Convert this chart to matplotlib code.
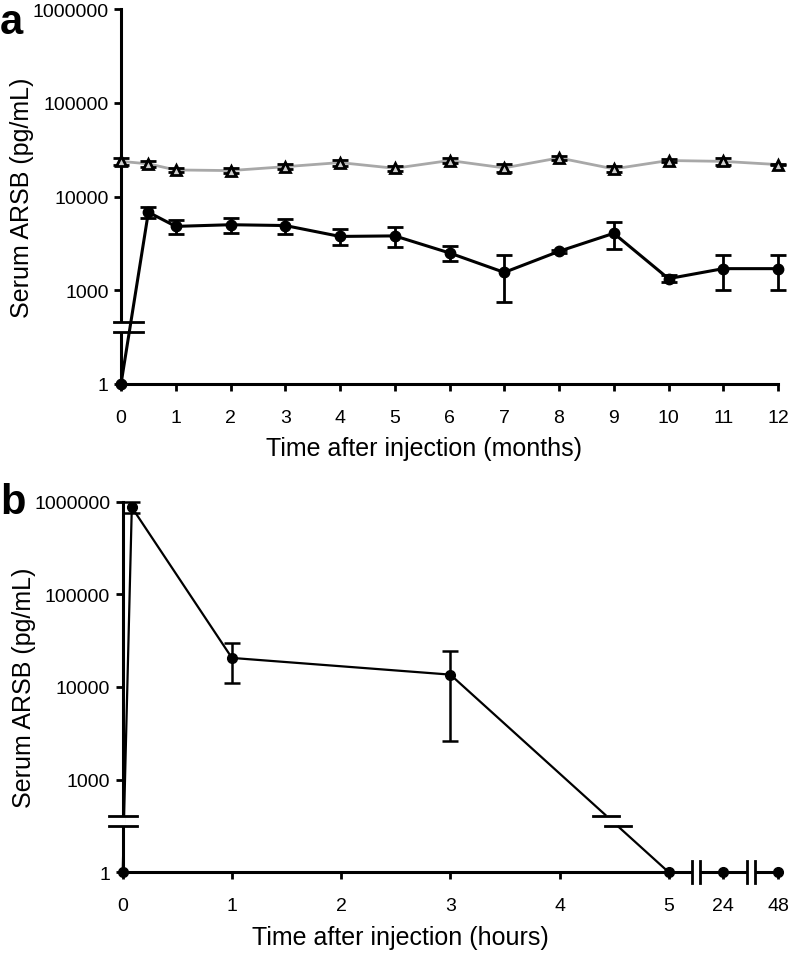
import numpy as np
import matplotlib
matplotlib.use('Agg')
import matplotlib.pyplot as plt
import matplotlib.transforms as mtransforms

plt.rcParams['font.family'] = ['Liberation Sans', 'DejaVu Sans']

# ---- panel a: serum ARSB over 12 months ----
months = [0, 0.5, 1, 2, 3, 4, 5, 6, 7, 8, 9, 10, 11, 12]
treated = [1, 6800, 4800, 5000, 4900, 3750, 3800, 2500, 1550, 2600, 4050, 1330, 1700, 1700]
treated_err = [0, 900, 850, 900, 920, 700, 900, 430, 800, 100, 1270, 120, 700, 700]
normal = [23700, 22300, 19200, 18900, 20800, 23000, 20000, 24200, 20200, 25800, 19700, 24200, 23700, 21900]
normal_err = [1800, 1600, 1000, 1200, 1200, 1700, 1200, 1400, 1800, 1500, 1400, 1000, 2000, 400]

# ---- panel b: serum ARSB over the first 48 hours ----
hours = [0, 5 / 60, 1, 3, 5, 24, 48]
serum = [1, 870000, 20600, 13600, 1, 1, 1]
serum_err = [0, 120000, 9500, 11000, 0, 0, 0]

y_ticks = [1, 1000, 10000, 100000, 1000000]
y_ticklabels = ['1', '1000', '10000', '100000', '1000000']
a_xticks = list(range(13))
b_xticks = [0, 1, 2, 3, 4, 5, 24, 48]


# broken log axis: values below ~300 squeezed, 1 sits one decade under 1000
def yfwd(v):
    v = np.clip(np.asarray(v, dtype=float), 1e-3, None)
    lv = np.log10(v)
    return np.where(lv >= 2.5, lv, 2 + lv * 0.2)


def yinv(t):
    t = np.asarray(t, dtype=float)
    with np.errstate(over='ignore'):
        return np.where(t >= 2.5, 10.0 ** t, 10.0 ** ((t - 2) * 5))


# hours axis: 0-5 linear, then 24 and 48 squeezed in
def xfwd(x):
    x = np.asarray(x, dtype=float)
    return np.where(x <= 5, x, np.where(x <= 24, 5 + 0.5 * (x - 5) / 19, 5.5 + 0.5 * (x - 24) / 24))


def xinv(t):
    t = np.asarray(t, dtype=float)
    return np.where(t <= 5, t, np.where(t <= 5.5, 5 + (t - 5) * 38, 24 + (t - 5.5) * 48))


fig = plt.figure(figsize=(7.92, 9.54), dpi=100)


def anchored(ax, x0, y0):
    # coordinates in inches, shifted to the display position of a data point
    return fig.dpi_scale_trans + mtransforms.ScaledTranslation(x0, y0, ax.transData)


def style_axes(ax):
    for s in ['top', 'right']:
        ax.spines[s].set_visible(False)
    for s in ['left', 'bottom']:
        ax.spines[s].set_linewidth(2.2)
    ax.set_yscale('function', functions=(yfwd, yinv))
    ax.set_ylim(1, 1000000)
    ax.set_yticks(y_ticks)
    ax.set_yticklabels(y_ticklabels)
    ax.yaxis.set_minor_locator(matplotlib.ticker.NullLocator())
    ax.tick_params(axis='both', direction='out', length=5, width=2, labelsize=14)
    ax.tick_params(axis='y', pad=4)
    ax.tick_params(axis='x', pad=13)
    ax.set_ylabel('Serum ARSB (pg/mL)', fontsize=18)
    ax.yaxis.set_label_coords(-0.132, 0.5)


def y_break(ax, center, half, left, right):
    y0 = float(yinv(center))
    ax.plot([0, 0], [yinv(center - half), yinv(center + half)], color='white', lw=4,
            solid_capstyle='butt', zorder=4, clip_on=False)
    tr = anchored(ax, 0, y0)
    for dy in (-0.05, 0.05):
        ax.plot([-left, right], [dy, dy], color='black', lw=2, transform=tr,
                zorder=6, clip_on=False)


# ================= panel a =================
axa = fig.add_axes([121 / 792, 1 - 385 / 954, 657 / 792, 375 / 954])
style_axes(axa)
axa.set_xlim(0, 12)
axa.set_xticks(a_xticks)
axa.set_xticklabels([str(t) for t in a_xticks])
axa.set_xlabel('Time after injection (months)', fontsize=18)
axa.xaxis.set_label_coords((424 - 121) / 657, -0.14)

axa.plot(months, normal, color='#a8a8a8', lw=2, zorder=3, clip_on=False)
idx = [i for i in range(len(months)) if normal_err[i] > 0]
axa.errorbar([months[i] for i in idx], [normal[i] for i in idx], yerr=[normal_err[i] for i in idx],
             fmt='none', ecolor='black', elinewidth=2, capsize=6, capthick=2, zorder=4, clip_on=False)
axa.plot(months, normal, ls='none', marker='^', ms=7.5, mfc='#d0d0d0', mec='black', mew=2,
         zorder=5, clip_on=False)

axa.plot(months, treated, color='black', lw=2.2, marker='o', ms=7.5, zorder=3, clip_on=False)
idx = [i for i in range(len(months)) if treated_err[i] > 0]
axa.errorbar([months[i] for i in idx], [treated[i] for i in idx], yerr=[treated_err[i] for i in idx],
             fmt='none', ecolor='black', elinewidth=2, capsize=6, capthick=2, zorder=4, clip_on=False)

y_break(axa, 2.61, 0.053, 0.07, 0.22)
fig.text(0.0, 0.997, 'a', fontsize=30, fontweight='bold', va='top', ha='left')

# ================= panel b =================
axb = fig.add_axes([122.7 / 792, 1 - 873.3 / 954, 655.3 / 792, 370.6 / 954])
style_axes(axb)
axb.set_xscale('function', functions=(xfwd, xinv))
axb.set_xlim(0, 48)
axb.set_xticks(b_xticks)
axb.set_xticklabels([str(t) for t in b_xticks])
axb.xaxis.set_minor_locator(matplotlib.ticker.NullLocator())
axb.set_xlabel('Time after injection (hours)', fontsize=18)
axb.xaxis.set_label_coords((400 - 122.7) / 655.3, -0.143)

axb.plot(hours, serum, color='black', lw=1.6, marker='o', ms=7, zorder=3, clip_on=False)
idx = [i for i in range(len(hours)) if serum_err[i] > 0]
axb.errorbar([hours[i] for i in idx], [serum[i] for i in idx], yerr=[serum_err[i] for i in idx],
             fmt='none', ecolor='black', elinewidth=1.8, capsize=6, capthick=1.8, zorder=4, clip_on=False)

y_break(axb, 2.555, 0.057, 0.14, 0.14)

# break on the falling segment between 3 h and 5 h
xa, xb = float(xfwd(hours[3])), float(xfwd(hours[4]))
ya, yb = float(yfwd(serum[3])), float(yfwd(serum[4]))
cross = []
for yc in (2.555 + 0.057, 2.555 - 0.057):
    f = (ya - yc) / (ya - yb)
    cross.append((float(xinv(xa + f * (xb - xa))), float(yinv(yc))))
axb.plot([c[0] for c in cross], [c[1] for c in cross], color='white', lw=5,
         solid_capstyle='butt', zorder=4)
for cx, cy in cross:
    axb.plot([-0.13, 0.13], [0, 0], color='black', lw=2, transform=anchored(axb, cx, cy), zorder=6)

# breaks on the time axis between 5/24 and 24/48
for t in (5.25, 5.75):
    tr = anchored(axb, float(xinv(t)), 1)
    axb.plot([-0.04, 0.04], [0, 0], color='white', lw=5, solid_capstyle='butt',
             transform=tr, zorder=5, clip_on=False)
    for dx in (-0.04, 0.04):
        axb.plot([dx, dx], [-0.11, 0.11], color='black', lw=2, transform=tr, zorder=6, clip_on=False)

fig.text(0.0, 0.494, 'b', fontsize=30, fontweight='bold', va='top', ha='left')

fig.savefig('out.png', dpi=100)
